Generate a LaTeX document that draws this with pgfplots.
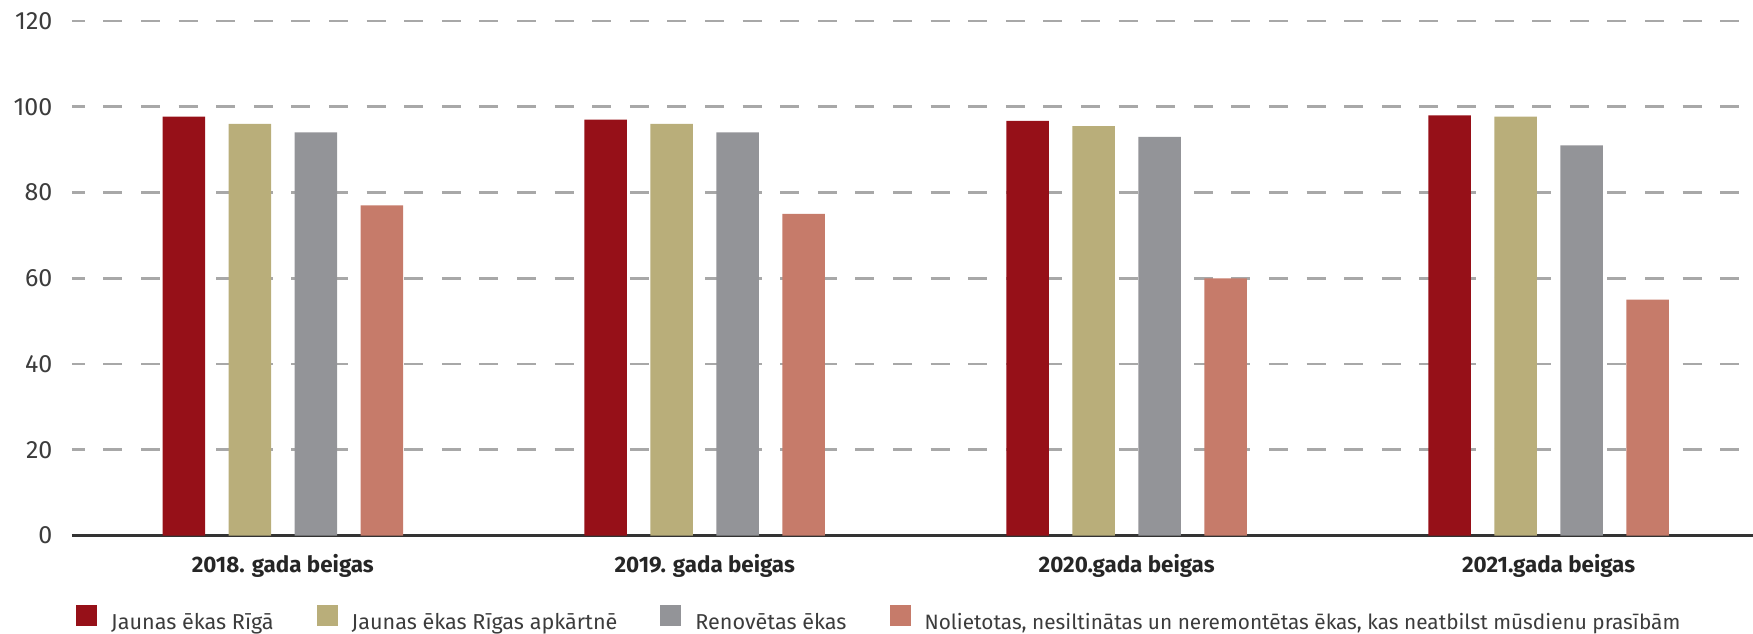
\documentclass[border=0pt]{standalone}
\usepackage{fontspec}
\setmainfont{Fira Sans}
\usepackage{pgfplots}
\pgfplotsset{compat=1.18}
\definecolor{cRed}{RGB}{150,16,24}
\definecolor{cOlive}{RGB}{185,174,122}
\definecolor{cGray}{RGB}{147,148,152}
\definecolor{cSalmon}{RGB}{198,123,106}
\definecolor{gridc}{RGB}{168,168,168}
\definecolor{txt}{RGB}{60,60,60}
\begin{document}
\begin{tikzpicture}
\begin{axis}[
  scale only axis, width=840.5pt, height=257.25pt,
  xmin=-0.5, xmax=3.484, ymin=0, ymax=120,
  ybar=11.75pt, bar width=21.25pt,
  separate axis lines,
  axis x line*=bottom, axis y line*=left,
  y axis line style={draw=none},
  x axis line style={draw=black!80, line width=1.4pt, -},
  major tick length=0pt,
  xtick={0,1,2,3},
  xticklabels={2018. gada beigas, 2019. gada beigas, 2020.gada beigas, 2021.gada beigas},
  xticklabel style={font=\bfseries\fontsize{11.2}{13}\selectfont, text=black!85, inner sep=0pt, anchor=north, yshift=-9pt},
  ytick={0,20,...,120},
  yticklabel style={font=\fontsize{12.5}{14}\selectfont, text=txt, inner sep=0pt, anchor=east, xshift=-9.5pt},
  /pgf/number format/assume math mode=true,
  ymajorgrids,
  grid style={gridc, line width=1.3pt, dash pattern=on 9.5pt off 9.3pt, dash phase=3pt},
  legend columns=-1,
  legend style={draw=none, fill=none, at={(0,0)}, anchor=west, xshift=2pt, yshift=-42.5pt, inner sep=0pt,
    font=\fontsize{10.8}{13}\selectfont, text=txt,
    /tikz/every odd column/.append style={column sep=5pt},
    /tikz/every even column/.append style={column sep=19.5pt}},
  legend image code/.code={\fill[#1,draw=none] (0pt,-1.5pt) rectangle (10.5pt,9pt);},
]
\addplot[fill=cRed, draw=none] coordinates {(0,97.7) (1,97) (2,96.7) (3,98)};
\addplot[fill=cOlive, draw=none] coordinates {(0,96) (1,96) (2,95.5) (3,97.7)};
\addplot[fill=cGray, draw=none] coordinates {(0,94) (1,94) (2,93) (3,91)};
\addplot[fill=cSalmon, draw=none] coordinates {(0,77) (1,75) (2,60) (3,55)};
\legend{Jaunas ēkas Rīgā, Jaunas ēkas Rīgas apkārtnē, Renovētas ēkas, {\fontsize{10.4}{13}\selectfont Nolietotas, nesiltinātas un neremontētas ēkas, kas neatbilst mūsdienu prasībām}}
\end{axis}
\pgfresetboundingbox
\path[use as bounding box] (-35.9pt,-48.75pt) rectangle (840.6pt,267.75pt);
\end{tikzpicture}
\end{document}
